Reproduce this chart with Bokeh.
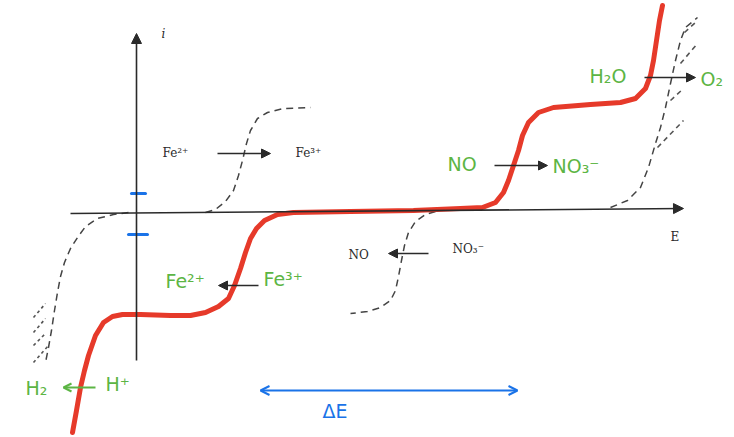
from bokeh.plotting import figure
from bokeh.models import Range1d, Arrow, NormalHead, OpenHead
from bokeh.core.properties import value
from bokeh.embed import file_html
from bokeh.resources import INLINE

# ---- current–potential (i–E) curves, arbitrary units ----
# overall measured curve (red)
red_E = [-64, -60, -56, -52, -48, -41, -33, -24, -14, 4, 34, 54, 69, 82, 92, 98, 104,
         109, 114, 120, 128, 141, 157, 214, 277, 324, 346, 359, 367, 372, 377, 382,
         386, 392, 402, 417, 454, 484, 499, 509, 514, 517, 520, 523, 526]
red_i = [-220, -198, -175, -158, -143, -123, -110, -104, -102, -102, -103, -103, -100,
         -94, -86, -73, -56, -40, -26, -16, -8, -2, 0, 1, 2, 4, 5, 10, 20, 32, 47, 62,
         77, 90, 100, 105, 108, 110, 114, 124, 137, 152, 172, 192, 207]

# Fe2+ -> Fe3+ oxidation wave
fe_ox_E = [69, 79, 89, 97, 102, 106, 110, 114, 121, 131, 147, 174]
fe_ox_i = [0, 3, 11, 22, 37, 52, 69, 82, 94, 100, 104, 105]

# H+ -> H2 reduction wall
h_red_E = [-8, -23, -39, -51, -59, -66, -72, -76, -79, -82, -85, -88, -91]
h_red_i = [0, -2, -6, -14, -25, -36, -50, -64, -80, -98, -118, -135, -150]

# NO3- -> NO reduction wave
no_red_E = [299, 289, 279, 272, 268, 265, 262, 259, 254, 244, 231, 214]
no_red_i = [1, -2, -9, -20, -33, -48, -64, -78, -88, -95, -99, -101]

# H2O -> O2 oxidation wall
o2_ox_E = [474, 491, 504, 512, 519, 524, 529, 534, 539, 544, 549, 561]
o2_ox_i = [5, 12, 25, 45, 69, 85, 105, 129, 152, 172, 185, 195]

# hatching along the solvent walls
hatch_left_E0 = [-103, -103, -103, -103]
hatch_left_i0 = [-105, -120, -133, -150]
hatch_left_E1 = [-91, -91, -91, -88]
hatch_left_i1 = [-91, -106, -121, -133]
hatch_right_E0 = [521, 534, 544, 548]
hatch_right_i0 = [65, 112, 149, 180]
hatch_right_E1 = [547, 547, 561, 560]
hatch_right_i1 = [92, 124, 169, 191]

# printed labels
print_labels = ["Fe²⁺", "Fe³⁺", "NO", "NO₃⁻"]
print_E = [26, 159, 212, 316]
print_i = [60, 60, -42, -36]

# handwritten labels
green_labels = ["Fe²⁺", "Fe³⁺", "NO", "NO₃⁻", "H₂O", "O₂", "H₂", "H⁺"]
green_E = [29, 127, 311, 416, 453, 564, -111, -31]
green_i = [-68, -66, 49, 47, 137, 134, -175, -171]

RED = "#e63a2a"
GREEN = "#5cb544"
BLUE = "#1a73e8"
INK = "#2a2a2a"

p = figure(width=734, height=437, x_range=Range1d(-136, 598), y_range=Range1d(-225, 212),
           output_backend="svg", toolbar_location=None,
           x_axis_type=None, y_axis_type=None, min_border=0)
p.grid.visible = False
p.outline_line_color = None
p.background_fill_color = "white"
p.border_fill_color = "white"

# drawn coordinate axes
p.add_layout(Arrow(x_start=-66, y_start=-1, x_end=547, y_end=4, line_color=INK, line_width=1.6,
                   end=NormalHead(size=10, fill_color=INK, line_color=INK)))
p.add_layout(Arrow(x_start=0, y_start=-148, x_end=0, y_end=179, line_color=INK, line_width=1.6,
                   end=NormalHead(size=10, fill_color=INK, line_color=INK)))

# dashed individual waves
for xs, ys in [(fe_ox_E, fe_ox_i), (h_red_E, h_red_i), (no_red_E, no_red_i), (o2_ox_E, o2_ox_i)]:
    p.line(xs, ys, line_color="#444444", line_width=1.5, line_dash="7 5")

p.segment(hatch_left_E0, hatch_left_i0, hatch_left_E1, hatch_left_i1,
          line_color="#555555", line_width=1.6, line_dash="3 3")
p.segment(hatch_right_E0, hatch_right_i0, hatch_right_E1, hatch_right_i1,
          line_color="#555555", line_width=1.6, line_dash="5 4")

# reaction arrows (printed)
for x0, x1, y in [(81, 134, 59), (292, 252, -41), (358, 411, 47), (508, 559, 135), (122, 82, -73)]:
    p.add_layout(Arrow(x_start=x0, y_start=y, x_end=x1, y_end=y, line_color=INK, line_width=1.5,
                       end=NormalHead(size=9, fill_color=INK, line_color=INK)))

# handwritten H+ -> H2 arrow
p.add_layout(Arrow(x_start=-41, y_start=-175, x_end=-73, y_end=-175, line_color=GREEN, line_width=2,
                   end=OpenHead(size=8, line_color=GREEN, line_width=2)))

# measured curve
p.line(red_E, red_i, line_color=RED, line_width=5, line_cap="round", line_join="round")

# blue marks on the current axis
p.segment([-5, -8], [19, -22], [9, 11], [19, -22], line_color=BLUE, line_width=3, line_cap="round")

# potential window ΔE
p.add_layout(Arrow(x_start=124, y_start=-178, x_end=381, y_end=-178, line_color=BLUE, line_width=2,
                   start=OpenHead(size=9, line_color=BLUE, line_width=2),
                   end=OpenHead(size=9, line_color=BLUE, line_width=2)))

p.text(print_E, print_i, text=print_labels, text_font=value("DejaVu Serif"),
       text_font_size="12px", text_color=INK, text_baseline="middle", text_align="left")
p.text([25], [179], text=["i"], text_font=value("DejaVu Serif"), text_font_style="italic",
       text_font_size="12px", text_color=INK, text_baseline="middle")
p.text([534], [-24], text=["E"], text_font=value("DejaVu Serif"),
       text_font_size="12px", text_color=INK, text_baseline="middle")

p.text(green_E, green_i, text=green_labels, text_font=value("DejaVu Sans"),
       text_font_size="19px", text_color=GREEN, text_baseline="middle", text_align="left")
p.text([186], [-198], text=["ΔE"], text_font=value("DejaVu Sans"),
       text_font_size="19px", text_color=BLUE, text_baseline="middle", text_align="left")

open("out.html", "w").write(file_html(p, INLINE))
